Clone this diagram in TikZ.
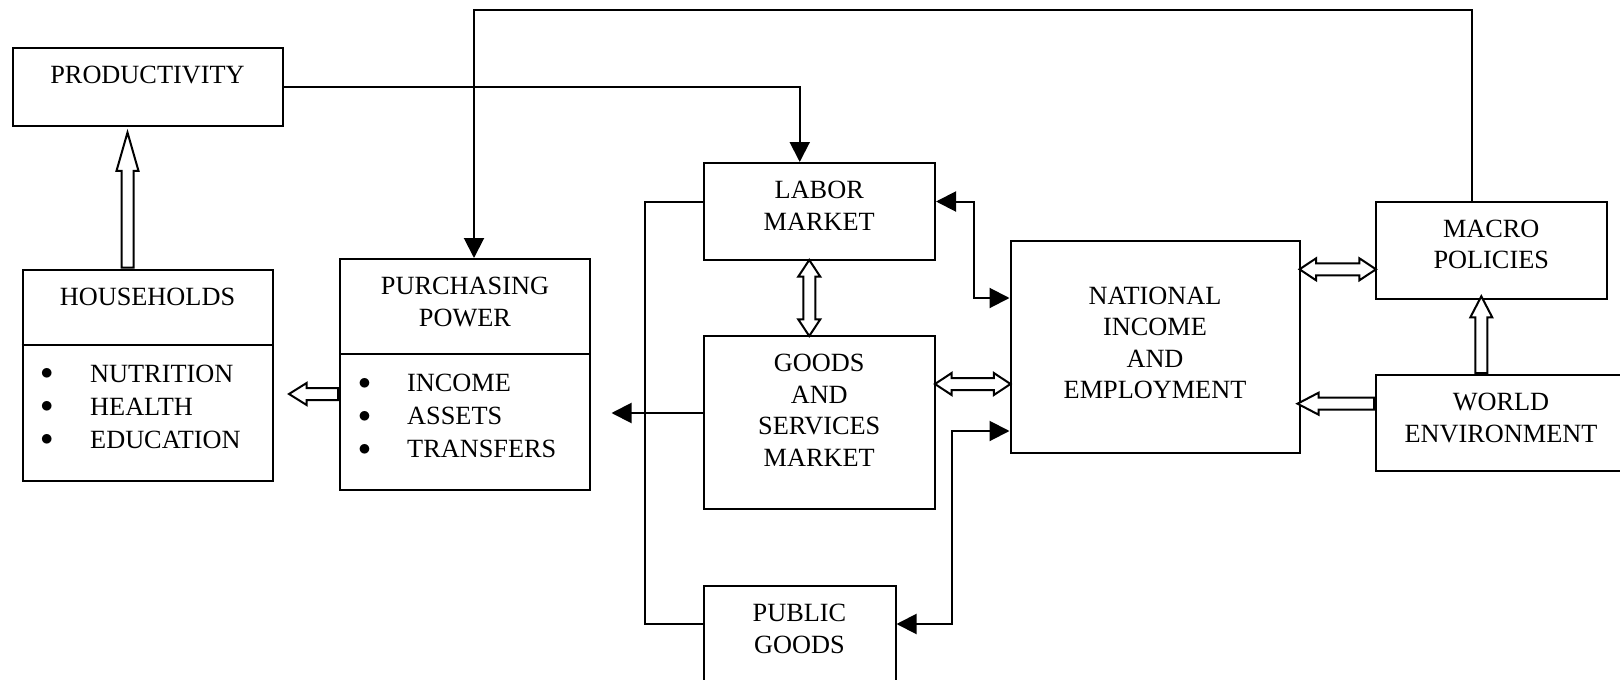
\documentclass[tikz,border=0pt]{standalone}
\usepackage{fontspec}
\setmainfont{Liberation Serif}
\usetikzlibrary{arrows.meta,shapes.arrows}

\begin{document}
\begin{tikzpicture}[x=1pt,y=-1pt]
\tikzset{every node/.style={font=\fontsize{26.3}{31.5}\selectfont}}
\tikzset{box/.style={draw,line width=2pt,inner sep=0pt,align=center,anchor=north west,text height=35.5pt}}
\tikzset{line/.style={line width=2pt}}
\tikzset{arr/.style={line,-{Triangle[length=20pt,width=20pt]}}}
\tikzset{arr2/.style={line,{Triangle[length=20pt,width=20pt]}-{Triangle[length=20pt,width=20pt]}}}
\tikzset{hol/.style={draw,line width=2pt,fill=white,single arrow,single arrow head extend=5pt,inner xsep=0pt,inner ysep=5pt,sloped,allow upside down,pos=0,anchor=tail}}
\tikzset{dhol/.style={draw,line width=2pt,fill=white,double arrow,double arrow head extend=5pt,double arrow tip angle=67,inner xsep=0pt,inner ysep=5pt,sloped,allow upside down,minimum height=76pt}}
\tikzset{item/.style={anchor=base west,inner sep=0pt}}

\useasboundingbox (0,0) rectangle (1620,680);
\clip (0,0) rectangle (1620,680);

\node[box,text width=270pt,text depth=42.5pt] (prod) at (11.5,47) {PRODUCTIVITY};
\node[box,text width=250pt,text depth=175.5pt] (hh) at (21.5,268.5) {HOUSEHOLDS};
\node[box,text width=250pt,text depth=195.5pt] (pp) at (339,258) {PURCHASING\\POWER};
\node[box,text width=231.5pt,text depth=61.5pt] (lab) at (702.5,162) {LABOR\\MARKET};
\node[box,text width=231.5pt,text depth=137.5pt] (gsm) at (702.5,335) {GOODS\\AND\\SERVICES\\MARKET};
\node[box,text width=192pt,text depth=74.5pt] (pub) at (702.5,585) {PUBLIC\\GOODS};
\node[box,text width=289pt,text height=63pt,text depth=148.5pt] (nat) at (1009.5,240) {NATIONAL\\INCOME\\AND\\EMPLOYMENT};
\node[box,text width=230.5pt,text depth=61.5pt] (mac) at (1375,200.5) {MACRO\\POLICIES};
\node[box,text width=250pt,text depth=60.5pt] (wld) at (1375,374) {WORLD\\ENVIRONMENT};

\draw[line] ([yshift=-76.5pt]hh.north west) -- ([yshift=-76.5pt]hh.north east);
\draw[line] ([yshift=-96pt]pp.north west) -- ([yshift=-96pt]pp.north east);

\node[item] (hhlist) at (40.4,382) {\begin{tabular}[t]{@{}l@{}}
\makebox[49.6pt][l]{\raisebox{2.5pt}{$\bullet$}}NUTRITION\\[1.5pt]
\makebox[49.6pt][l]{\raisebox{2.5pt}{$\bullet$}}HEALTH\\[1.5pt]
\makebox[49.6pt][l]{\raisebox{2.5pt}{$\bullet$}}EDUCATION\end{tabular}};
\node[item] (pplist) at (358.1,391.5) {\begin{tabular}[t]{@{}l@{}}
\makebox[48.9pt][l]{\raisebox{2.5pt}{$\bullet$}}INCOME\\[1.5pt]
\makebox[48.9pt][l]{\raisebox{2.5pt}{$\bullet$}}ASSETS\\[1.5pt]
\makebox[48.9pt][l]{\raisebox{2.5pt}{$\bullet$}}TRANSFERS\end{tabular}};

\coordinate (top) at (0,9.5);
\coordinate (ppin) at ([xshift=20.5pt,yshift=-38.5pt]pp.east);

\draw[arr] (prod.east) -| ([xshift=-19.5pt]lab.north);
\draw[arr] ([xshift=-19pt]mac.north) |- ([xshift=9pt]pp.north |- top) -- ([xshift=9pt]pp.north);
\draw[arr2] ([yshift=10pt]lab.east) -- ++(38,0) |- ([yshift=48.75pt]nat.west);
\draw[arr2] ([yshift=-84.25pt]nat.west) -- ++(-58,0) |- ([yshift=17pt]pub.east);
\draw[line] ([yshift=10pt]lab.west) -- ++(-58,0) |- ([yshift=17pt]pub.west);
\draw[arr] (gsm.west |- ppin) -- (ppin);

\path ([xshift=-20pt]hh.north) -- node[hol,single arrow tip angle=32,minimum height=135pt] {} ([xshift=-20pt,yshift=-8pt]hh.north |- prod.south);
\path ([yshift=-19.5pt]pp.west) -- node[hol,single arrow tip angle=64,minimum height=49pt] {} ([yshift=-19.5pt,xshift=18.5pt]pp.west -| hh.east);
\path ([xshift=-10pt]lab.south) -- node[dhol] {} ([xshift=-10pt]gsm.north);
\path ([yshift=38.5pt]gsm.east) -- node[dhol,minimum height=75.5pt] {} ([yshift=38.5pt]gsm.east -| nat.west);
\path ([yshift=-19.3pt]mac.west) -- node[dhol,minimum height=76.5pt] {} ([yshift=-19.3pt]mac.west -| nat.east);
\path ([yshift=19.3pt]wld.west) -- node[hol,single arrow tip angle=55,minimum height=76.5pt] {} ([yshift=19.3pt]wld.west -| nat.east);
\path ([xshift=-19.7pt]wld.north) -- node[hol,single arrow tip angle=55,minimum height=76.7pt] {} ([xshift=-19.7pt]wld.north |- mac.south);

\end{tikzpicture}
\end{document}
